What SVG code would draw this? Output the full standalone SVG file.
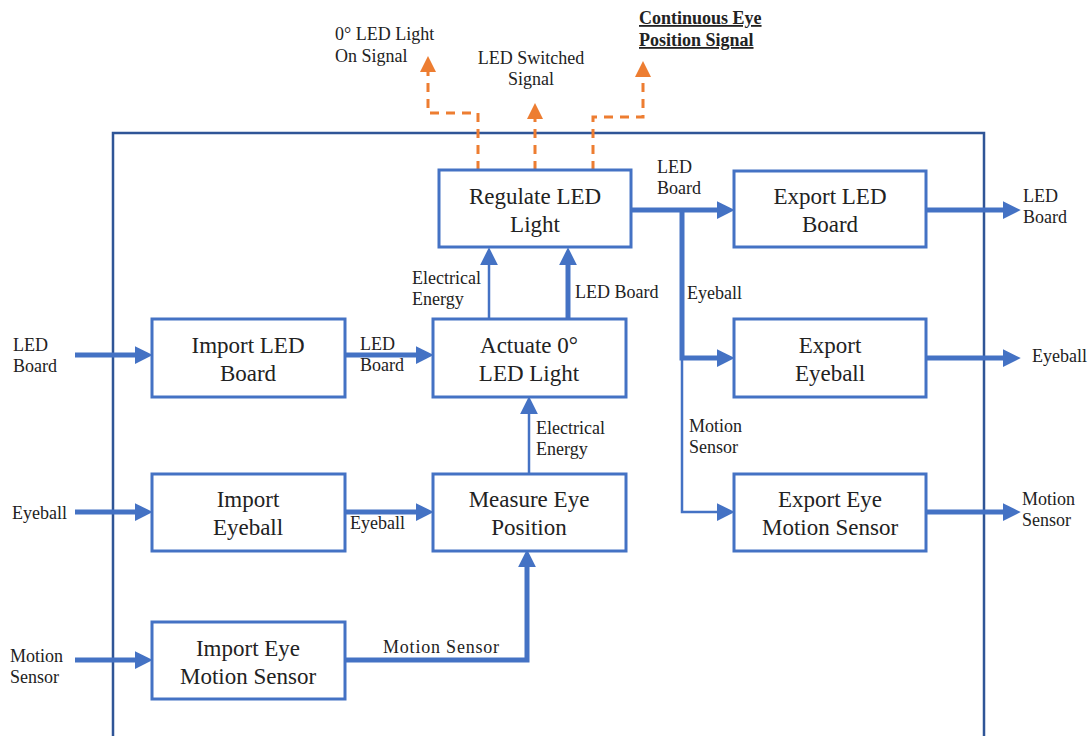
<svg xmlns="http://www.w3.org/2000/svg" width="1092" height="736" viewBox="0 0 1092 736">
<style>
.box{fill:#fff;stroke:#4472c4;stroke-width:3}
.bt{font-family:"Liberation Serif",serif;font-size:23px;fill:#222;text-anchor:middle}
.lb{font-family:"Liberation Serif",serif;font-size:18px;fill:#222}
.thick{fill:none;stroke:#4472c4;stroke-width:5}
.thin{fill:none;stroke:#4472c4;stroke-width:2.5}
.dash{fill:none;stroke:#ed7d31;stroke-width:3;stroke-dasharray:9 7}
</style>
<defs>
<marker id="ah" viewBox="0 0 16 16" refX="2" refY="8" markerWidth="18" markerHeight="18" markerUnits="userSpaceOnUse" orient="auto"><path d="M0,0 L16,8 L0,16 z" fill="#4472c4"/></marker>
<marker id="oh" viewBox="0 0 16 16" refX="2" refY="8" markerWidth="16" markerHeight="16" markerUnits="userSpaceOnUse" orient="auto"><path d="M0,0 L16,8 L0,16 z" fill="#ed7d31"/></marker>
</defs>
<rect width="1092" height="736" fill="#fff"/>
<rect id="boundary" x="113" y="133" width="871" height="640" fill="none" stroke="#2f5597" stroke-width="2.5"/>

<g id="connectors">
<line class="thick" x1="75" y1="355" x2="137" y2="355" marker-end="url(#ah)"/>
<line class="thick" x1="75" y1="512" x2="137" y2="512" marker-end="url(#ah)"/>
<line class="thick" x1="75" y1="660" x2="137" y2="660" marker-end="url(#ah)"/>
<line class="thick" x1="345" y1="355" x2="418" y2="355" marker-end="url(#ah)"/>
<line class="thick" x1="345" y1="512" x2="418" y2="512" marker-end="url(#ah)"/>
<polyline class="thick" points="345,660 527,660 527,565" marker-end="url(#ah)"/>
<line class="thin" x1="529" y1="474" x2="529" y2="412" marker-end="url(#ah)"/>
<line class="thin" x1="489" y1="319" x2="489" y2="263" marker-end="url(#ah)"/>
<line class="thick" x1="568" y1="319" x2="568" y2="263" marker-end="url(#ah)"/>
<line class="thick" x1="631" y1="210" x2="719" y2="210" marker-end="url(#ah)"/>
<polyline class="thick" points="682,208 682,358 719,358" marker-end="url(#ah)"/>
<polyline class="thin" points="682,358 682,512 719,512" marker-end="url(#ah)"/>
<line class="thick" x1="926" y1="210" x2="1005" y2="210" marker-end="url(#ah)"/>
<line class="thick" x1="926" y1="358" x2="1005" y2="358" marker-end="url(#ah)"/>
<line class="thick" x1="926" y1="512" x2="1005" y2="512" marker-end="url(#ah)"/>
<polyline class="dash" points="478,170 478,113 428,113 428,70" marker-end="url(#oh)"/>
<line class="dash" x1="535" y1="170" x2="535" y2="117" marker-end="url(#oh)"/>
<polyline class="dash" points="593,170 593,117 643,117 643,75" marker-end="url(#oh)"/>
</g>

<g id="regulate"><rect class="box" x="439" y="170" width="192" height="77"/><text class="bt" x="535" y="204">Regulate LED</text><text class="bt" x="535" y="232">Light</text></g>
<g id="exportLED"><rect class="box" x="734" y="171" width="192" height="76"/><text class="bt" x="830" y="204">Export LED</text><text class="bt" x="830" y="232">Board</text></g>
<g id="importLED"><rect class="box" x="152" y="319" width="193" height="78"/><text class="bt" x="248" y="353">Import LED</text><text class="bt" x="248" y="381">Board</text></g>
<g id="actuate"><rect class="box" x="433" y="319" width="193" height="78"/><text class="bt" x="529" y="353">Actuate 0°</text><text class="bt" x="529" y="381">LED Light</text></g>
<g id="exportEyeball"><rect class="box" x="734" y="319" width="192" height="78"/><text class="bt" x="830" y="353">Export</text><text class="bt" x="830" y="381">Eyeball</text></g>
<g id="importEyeball"><rect class="box" x="152" y="474" width="193" height="77"/><text class="bt" x="248" y="507">Import</text><text class="bt" x="248" y="535">Eyeball</text></g>
<g id="measure"><rect class="box" x="433" y="474" width="193" height="77"/><text class="bt" x="529" y="507">Measure Eye</text><text class="bt" x="529" y="535">Position</text></g>
<g id="exportMotion"><rect class="box" x="734" y="474" width="192" height="77"/><text class="bt" x="830" y="507">Export Eye</text><text class="bt" x="830" y="535">Motion Sensor</text></g>
<g id="importMotion"><rect class="box" x="152" y="622" width="193" height="77"/><text class="bt" x="248" y="656">Import Eye</text><text class="bt" x="248" y="684">Motion Sensor</text></g>

<g id="labels">
<text class="lb" x="13" y="351">LED</text><text class="lb" x="13" y="372">Board</text>
<text class="lb" x="12" y="519">Eyeball</text>
<text class="lb" x="10" y="662">Motion</text><text class="lb" x="10" y="683">Sensor</text>
<text class="lb" x="360" y="350">LED</text><text class="lb" x="360" y="371">Board</text>
<text class="lb" x="350" y="529">Eyeball</text>
<text class="lb" x="383" y="653" letter-spacing="0.8">Motion Sensor</text>
<text class="lb" x="536" y="434">Electrical</text><text class="lb" x="536" y="455">Energy</text>
<text class="lb" x="412" y="284">Electrical</text><text class="lb" x="412" y="305">Energy</text>
<text class="lb" x="575" y="298">LED Board</text>
<text class="lb" x="657" y="173">LED</text><text class="lb" x="657" y="194">Board</text>
<text class="lb" x="687" y="299">Eyeball</text>
<text class="lb" x="689" y="432">Motion</text><text class="lb" x="689" y="453">Sensor</text>
<text class="lb" x="1023" y="202">LED</text><text class="lb" x="1023" y="223">Board</text>
<text class="lb" x="1032" y="362">Eyeball</text>
<text class="lb" x="1022" y="505">Motion</text><text class="lb" x="1022" y="526">Sensor</text>
<text class="lb" x="335" y="40" font-size="19">0° LED Light</text><text class="lb" x="335" y="62" font-size="19">On Signal</text>
<text class="lb" x="531" y="64" text-anchor="middle">LED Switched</text><text class="lb" x="531" y="85" text-anchor="middle">Signal</text>
<text class="lb" x="639" y="24" font-weight="bold" text-decoration="underline">Continuous Eye</text><text class="lb" x="639" y="46" font-weight="bold" text-decoration="underline">Position Signal</text>
</g>
</svg>
